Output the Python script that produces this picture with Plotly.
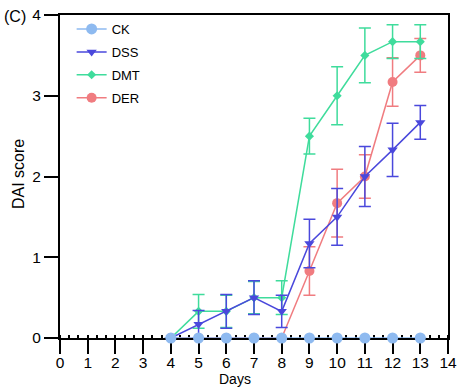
import plotly.graph_objects as go

# Disease activity index per group over the days of the experiment
days = [4, 5, 6, 7, 8, 9, 10, 11, 12, 13]

ck_mean = [0, 0, 0, 0, 0, 0, 0, 0, 0, 0]
ck_err = [0, 0, 0, 0, 0, 0, 0, 0, 0, 0]

dss_mean = [0, 0.17, 0.33, 0.5, 0.33, 1.17, 1.5, 2.0, 2.33, 2.67]
dss_err = [0, 0.17, 0.21, 0.21, 0.2, 0.3, 0.35, 0.37, 0.33, 0.21]

dmt_mean = [0, 0.33, 0.33, 0.5, 0.5, 2.5, 3.0, 3.5, 3.67, 3.67]
dmt_err = [0, 0.21, 0.2, 0.2, 0.21, 0.22, 0.36, 0.34, 0.21, 0.21]

der_mean = [0, 0, 0, 0, 0, 0.83, 1.67, 2.0, 3.17, 3.5]
der_err = [0, 0, 0, 0, 0, 0.3, 0.42, 0.27, 0.3, 0.21]

x_ticks = list(range(0, 15))
y_ticks = [0, 1, 2, 3, 4]

series = [
    # name, mean, err, colour, symbol, size, legend rank
    ("DER", der_mean, der_err, "#f07c80", "circle", 10, 4),
    ("DMT", dmt_mean, dmt_err, "#3fdc9c", "diamond", 7, 3),
    ("DSS", dss_mean, dss_err, "#4a48dc", "triangle-down", 9, 2),
    ("CK", ck_mean, ck_err, "#8ebaf0", "circle", 11, 1),
]

fig = go.Figure()
for name, mean, err, color, symbol, size, rank in series:
    fig.add_trace(go.Scatter(
        x=days, y=mean, name=name, mode="lines+markers",
        line=dict(color=color, width=1.5),
        marker=dict(color=color, symbol=symbol, size=size),
        error_y=dict(type="data", array=err, visible=True, color=color,
                     thickness=1.5, width=6),
        cliponaxis=False,
        legendrank=rank, legendgroup=name,
    ))

font = "Liberation Sans, Arial, sans-serif"

fig.update_layout(
    width=462, height=390,
    margin=dict(l=60, r=14, t=15, b=52),
    paper_bgcolor="white", plot_bgcolor="white",
    font=dict(family=font, color="black", size=15),
    showlegend=True,
    legend=dict(x=0.03, y=1.003, xanchor="left", yanchor="top",
                font=dict(size=13, family=font), bgcolor="rgba(0,0,0,0)",
                traceorder="grouped", tracegroupgap=3),
    xaxis=dict(
        range=[0, 14], tickvals=x_ticks, ticktext=[str(v) for v in x_ticks],
        showgrid=False, zeroline=False, automargin=False,
        showline=True, linecolor="black", linewidth=2, mirror=True,
        layer="below traces",
        ticks="outside", ticklen=14, tickwidth=2, tickcolor="black",
        tickfont=dict(size=15.5), ticklabelstandoff=-5,
        minor=dict(dtick=1 / 3, ticks="inside", ticklen=3, tickwidth=1.5,
                   tickcolor="black"),
    ),
    yaxis=dict(
        range=[0, 4], tickvals=y_ticks,
        showgrid=False, zeroline=False, automargin=False,
        showline=True, linecolor="black", linewidth=2, mirror=True,
        layer="below traces",
        ticks="outside", ticklen=14, tickwidth=1.5, tickcolor="black",
        tickfont=dict(size=15.5),
    ),
    annotations=[
        dict(text="(C)", x=2, y=17, xref="paper", yref="paper",
             showarrow=False, xanchor="left", yanchor="middle",
             font=dict(size=16, family=font)),
        dict(text="Days", x=235, y=379, showarrow=False,
             xanchor="center", yanchor="middle", font=dict(size=14, family=font)),
        dict(text="DAI score", x=18, y=174, showarrow=False, textangle=-90,
             xanchor="center", yanchor="middle", font=dict(size=16, family=font)),
    ],
)

# Place the free-standing labels in page pixels
W, H = 462, 390
for ann in fig.layout.annotations:
    ann.xref = "paper"
    ann.yref = "paper"
    ann.x = (ann.x - 60) / (W - 60 - 14)
    ann.y = 1 - (ann.y - 15) / (H - 15 - 52)

fig.write_html("out.html")
